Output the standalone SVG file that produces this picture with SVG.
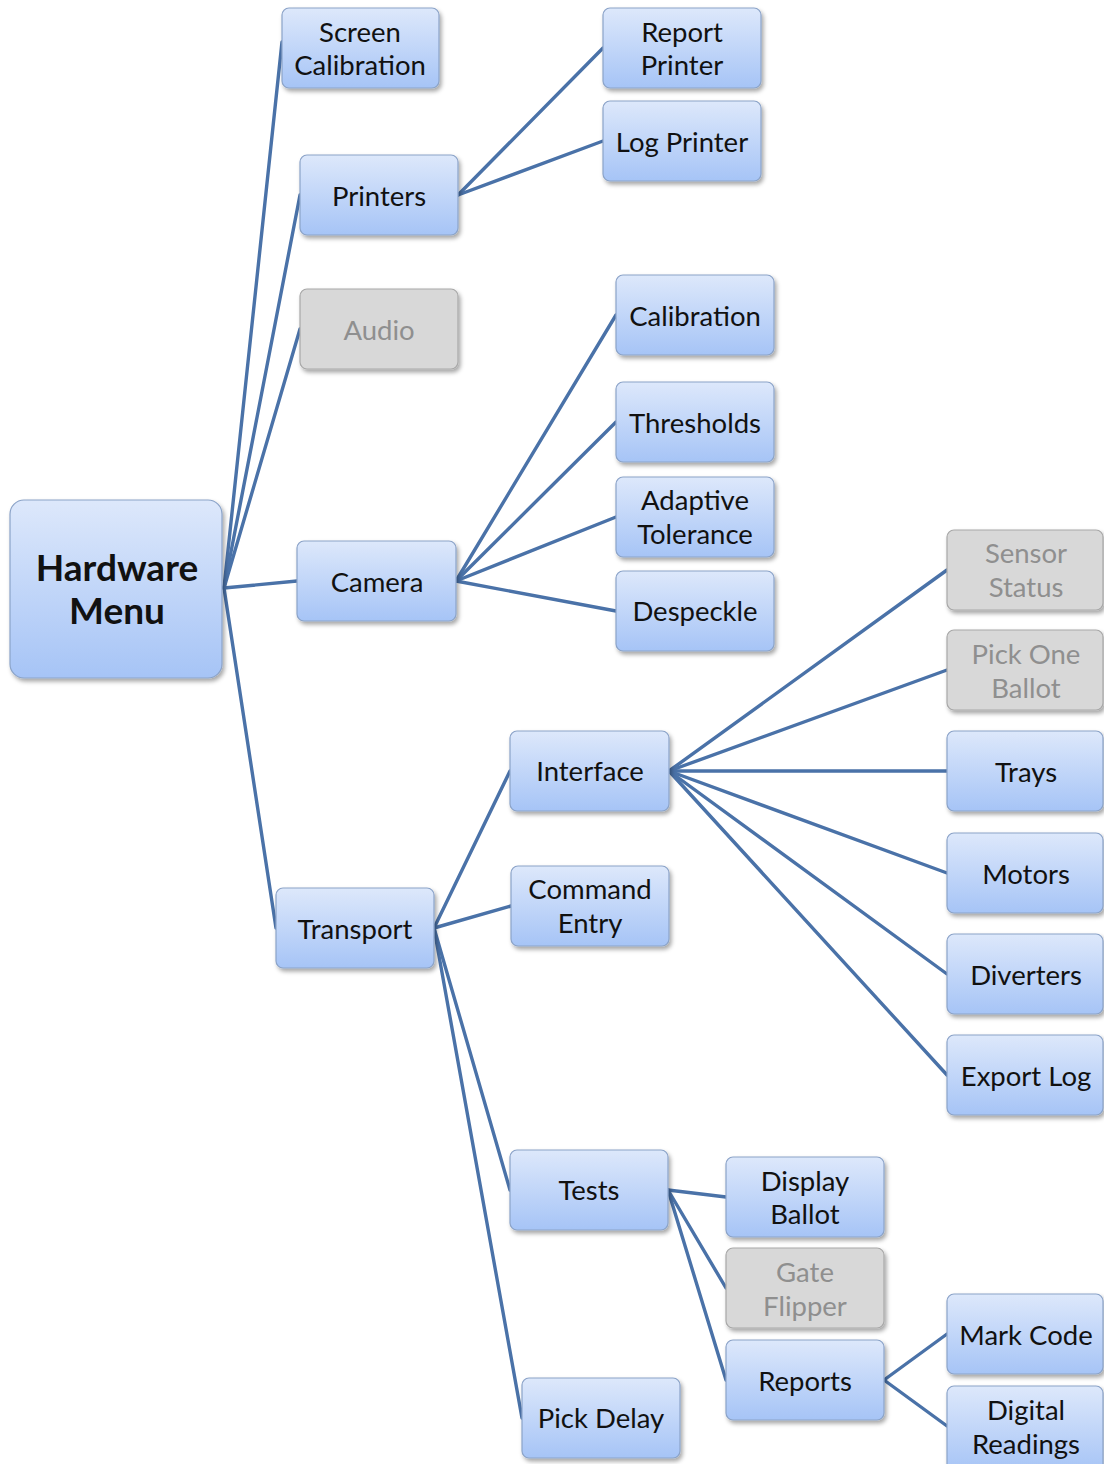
<svg xmlns="http://www.w3.org/2000/svg" width="1104" height="1464" viewBox="0 0 1104 1464">
<defs>
<linearGradient id="gb" x1="0" y1="0" x2="0" y2="1">
<stop offset="0" stop-color="#dde8fb"/>
<stop offset="1" stop-color="#a6c4f6"/>
</linearGradient>
<filter id="sh" x="-10%" y="-10%" width="130%" height="140%">
<feDropShadow dx="2" dy="3" stdDeviation="2" flood-color="#000" flood-opacity="0.35"/>
</filter>
</defs>
<style>
.n rect{fill:url(#gb);stroke:#8ba3c8;stroke-width:1.2;filter:url(#sh)}
.g rect{fill:#d8d8d8;stroke:#a8a8a8;stroke-width:1.2;filter:url(#sh)}
text{font-family:Lato,"Liberation Sans",sans-serif;font-size:27.5px;text-anchor:middle;dominant-baseline:central;fill:#111}
.g text{fill:#8f8f8f}
.big{font-size:37px;font-weight:bold}
#edges line{stroke:#4a72a8;stroke-width:3.4;stroke-linecap:round}
</style>
<g id="edges">
<line x1="224" y1="588" x2="282" y2="42"/>
<line x1="224" y1="588" x2="300" y2="195"/>
<line x1="224" y1="588" x2="300" y2="329"/>
<line x1="224" y1="588" x2="297" y2="581"/>
<line x1="224" y1="588" x2="276" y2="928"/>
<line x1="458" y1="195" x2="603" y2="48"/>
<line x1="458" y1="195" x2="603" y2="141"/>
<line x1="456" y1="581" x2="616" y2="315"/>
<line x1="456" y1="581" x2="616" y2="422"/>
<line x1="456" y1="581" x2="616" y2="517"/>
<line x1="456" y1="581" x2="616" y2="611"/>
<line x1="434" y1="928" x2="510" y2="771"/>
<line x1="434" y1="928" x2="511" y2="906"/>
<line x1="434" y1="928" x2="510" y2="1190"/>
<line x1="434" y1="928" x2="522" y2="1418"/>
<line x1="669" y1="771" x2="947" y2="570"/>
<line x1="669" y1="771" x2="947" y2="670"/>
<line x1="669" y1="771" x2="947" y2="771"/>
<line x1="669" y1="771" x2="947" y2="873"/>
<line x1="669" y1="771" x2="947" y2="974"/>
<line x1="669" y1="771" x2="947" y2="1075"/>
<line x1="668" y1="1190" x2="726" y2="1197"/>
<line x1="668" y1="1190" x2="726" y2="1288"/>
<line x1="668" y1="1190" x2="726" y2="1380"/>
<line x1="884" y1="1380" x2="947" y2="1334"/>
<line x1="884" y1="1380" x2="947" y2="1426"/>
</g>
<g id="hardware-menu" class="n"><rect x="10" y="500" width="212" height="178" rx="14"/><text class="big" x="117" y="566">Hardware</text><text class="big" x="117" y="609">Menu</text></g>
<g id="screen-calibration" class="n"><rect x="282" y="8" width="157" height="80" rx="7"/><text x="360" y="31">Screen</text><text x="360" y="64">Calibration</text></g>
<g id="printers" class="n"><rect x="300" y="155" width="158" height="80" rx="7"/><text x="379" y="195">Printers</text></g>
<g id="audio" class="g"><rect x="300" y="289" width="158" height="80" rx="7"/><text x="379" y="329">Audio</text></g>
<g id="camera" class="n"><rect x="297" y="541" width="159" height="80" rx="7"/><text x="377" y="581">Camera</text></g>
<g id="transport" class="n"><rect x="276" y="888" width="158" height="80" rx="7"/><text x="355" y="928">Transport</text></g>
<g id="report-printer" class="n"><rect x="603" y="8" width="158" height="80" rx="7"/><text x="682" y="31">Report</text><text x="682" y="64">Printer</text></g>
<g id="log-printer" class="n"><rect x="603" y="101" width="158" height="80" rx="7"/><text x="682" y="141">Log Printer</text></g>
<g id="calibration" class="n"><rect x="616" y="275" width="158" height="80" rx="7"/><text x="695" y="315">Calibration</text></g>
<g id="thresholds" class="n"><rect x="616" y="382" width="158" height="80" rx="7"/><text x="695" y="422">Thresholds</text></g>
<g id="adaptive-tolerance" class="n"><rect x="616" y="477" width="158" height="80" rx="7"/><text x="695" y="499">Adaptive</text><text x="695" y="533">Tolerance</text></g>
<g id="despeckle" class="n"><rect x="616" y="571" width="158" height="80" rx="7"/><text x="695" y="610">Despeckle</text></g>
<g id="interface" class="n"><rect x="510" y="731" width="159" height="80" rx="7"/><text x="590" y="770">Interface</text></g>
<g id="command-entry" class="n"><rect x="511" y="866" width="158" height="80" rx="7"/><text x="590" y="888">Command</text><text x="590" y="922">Entry</text></g>
<g id="tests" class="n"><rect x="510" y="1150" width="158" height="80" rx="7"/><text x="589" y="1189">Tests</text></g>
<g id="pick-delay" class="n"><rect x="522" y="1378" width="158" height="80" rx="7"/><text x="601" y="1417">Pick Delay</text></g>
<g id="sensor-status" class="g"><rect x="947" y="530" width="156" height="80" rx="7"/><text x="1026" y="552">Sensor</text><text x="1026" y="586">Status</text></g>
<g id="pick-one-ballot" class="g"><rect x="947" y="630" width="156" height="80" rx="7"/><text x="1026" y="653">Pick One</text><text x="1026" y="687">Ballot</text></g>
<g id="trays" class="n"><rect x="947" y="731" width="156" height="80" rx="7"/><text x="1026" y="771">Trays</text></g>
<g id="motors" class="n"><rect x="947" y="833" width="156" height="80" rx="7"/><text x="1026" y="873">Motors</text></g>
<g id="diverters" class="n"><rect x="947" y="934" width="156" height="80" rx="7"/><text x="1026" y="974">Diverters</text></g>
<g id="export-log" class="n"><rect x="947" y="1035" width="156" height="80" rx="7"/><text x="1026" y="1075">Export Log</text></g>
<g id="display-ballot" class="n"><rect x="726" y="1157" width="158" height="80" rx="7"/><text x="805" y="1180">Display</text><text x="805" y="1213">Ballot</text></g>
<g id="gate-flipper" class="g"><rect x="726" y="1248" width="158" height="80" rx="7"/><text x="805" y="1271">Gate</text><text x="805" y="1305">Flipper</text></g>
<g id="reports" class="n"><rect x="726" y="1340" width="158" height="80" rx="7"/><text x="805" y="1380">Reports</text></g>
<g id="mark-code" class="n"><rect x="947" y="1294" width="156" height="80" rx="7"/><text x="1026" y="1334">Mark Code</text></g>
<g id="digital-readings" class="n"><rect x="947" y="1386" width="156" height="86" rx="7"/><text x="1026" y="1409">Digital</text><text x="1026" y="1443">Readings</text></g>
</svg>
